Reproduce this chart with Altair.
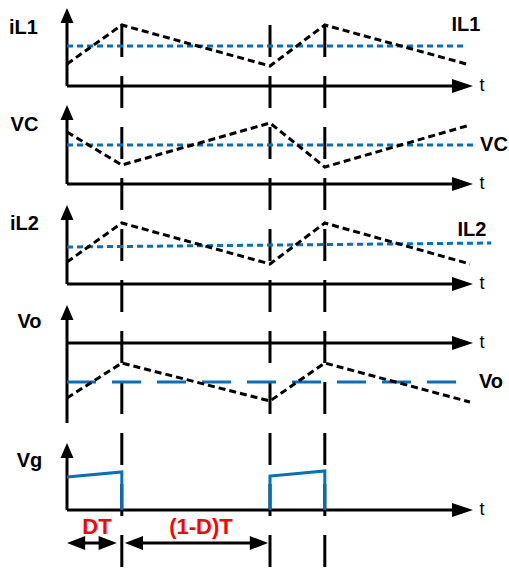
import altair as alt
import pandas as pd

# ---------------- data ----------------
D = 0.27                                   # duty ratio (DT / T)
T_KNOTS = [0, D, 1, 1 + D, 1.985]          # time, in switching periods
IL1 = [22, 61, 20, 61, 21]                 # inductor current iL1 (height above its t axis)
VC = [52, 19, 61, 17, 59]                  # capacitor voltage VC
IL2 = [22, 61, 20, 61, 20]                 # inductor current iL2
VO = [-55, -20, -58, -20, -59]             # output voltage Vo (below its t axis)
AVG_NAMES = ["IL1", "VC", "IL2", "Vo"]
AVG_START = [40, 39, 37, -39]              # average level at t = 0
AVG_END = [40, 39, 41, -39]                # average level at right end
AVG_T_END = [1.97, 2.01, 2.09, 1.995]
VG_T1 = [0, D, D]
VG_1 = [33, 38, 0]
VG_T2 = [1, 1, 1 + D, 1 + D]
VG_2 = [0, 34, 39, 0]
SWITCH_T = [D, 1, 1 + D]
PANELS = ["iL1", "VC", "iL2", "Vo", "Vg"]

# ---------------- layout ----------------
W, H = 509, 571
X0, TPX = 67, 203               # pixel x of t=0, pixels per period
AXIS_Y = [86, 184, 284, 343, 510]
TIP_Y = [8, 105, 205, 305, 443]
YAX_BOTTOM = [86, 184, 284, 423, 510]
T_TIP_X = 473
BLACK = "#000000"
BLUE = "#0070C0"
RED = "#FF0000"
FONT = "Liberation Sans"


def px(t):
    return X0 + t * TPX


# axes lines
rows = []
for i in range(5):
    rows.append(dict(x=X0, y=YAX_BOTTOM[i], x2=X0, y2=TIP_Y[i] + 10))
    rows.append(dict(x=X0, y=AXIS_Y[i], x2=T_TIP_X - 15, y2=AXIS_Y[i]))
axes_df = pd.DataFrame(rows)

up_df = pd.DataFrame(dict(x=[X0] * 5, y=TIP_Y))
right_df = pd.DataFrame(dict(x=[T_TIP_X] * 5, y=AXIS_Y))

# switching instants (dashed verticals)
sw_df = pd.DataFrame(dict(x=[px(t) for t in SWITCH_T], y=[25] * 3, x2=[px(t) for t in SWITCH_T], y2=[H] * 3))

# triangular waveforms
wrows = []
for k, vals in zip(range(4), [IL1, VC, IL2, VO]):
    for j, (t, v) in enumerate(zip(T_KNOTS, vals)):
        wrows.append(dict(p=PANELS[k], i=j, x=px(t), y=AXIS_Y[k] - v))
wave_df = pd.DataFrame(wrows)

# average levels
arows = []
for k in range(4):
    arows.append(dict(p=AVG_NAMES[k], i=0, x=px(0), y=AXIS_Y[k] - AVG_START[k]))
    arows.append(dict(p=AVG_NAMES[k], i=1, x=px(AVG_T_END[k]), y=AXIS_Y[k] - AVG_END[k]))
avg_df = pd.DataFrame(arows)
avg_dot = avg_df[avg_df.p != "Vo"]
avg_dash = avg_df[avg_df.p == "Vo"]

# gate voltage
grows = []
for j, (t, v) in enumerate(zip(VG_T1, VG_1)):
    grows.append(dict(p="a", i=j, x=px(t), y=AXIS_Y[4] - v))
for j, (t, v) in enumerate(zip(VG_T2, VG_2)):
    grows.append(dict(p="b", i=j, x=px(t), y=AXIS_Y[4] - v))
vg_df = pd.DataFrame(grows)

# interval arrows
ARROW_Y = 543
iv_df = pd.DataFrame(dict(x=[px(0) + 10, px(D) + 14], x2=[px(D) - 14, px(1) - 14], y=[ARROW_Y] * 2, y2=[ARROW_Y] * 2))
ileft_df = pd.DataFrame(dict(x=[px(0), px(D) + 3], y=[ARROW_Y] * 2))
iright_df = pd.DataFrame(dict(x=[px(D) - 5, px(1) - 2], y=[ARROW_Y] * 2))

# labels
left_lab = pd.DataFrame(dict(text=["iL1", "VC", "iL2", "Vo", "Vg"],
                             x=[23.5, 24.5, 24.5, 29.5, 29.5], y=[28, 125, 224, 322, 461]))
right_lab = pd.DataFrame(dict(text=["IL1", "VC", "IL2", "Vo"],
                              x=[466, 494, 472, 491], y=[25, 145, 230, 382]))
t_lab = pd.DataFrame(dict(text=["t"] * 5, x=[482] * 5, y=AXIS_Y))
red_lab = pd.DataFrame(dict(text=["DT", "(1-D)T"], x=[97, 201], y=[527, 527]))

X = alt.X("x:Q", scale=alt.Scale(domain=[0, W], nice=False, zero=False), axis=None)
Y = alt.Y("y:Q", scale=alt.Scale(domain=[0, H], nice=False, zero=False, reverse=True), axis=None)

axes = alt.Chart(axes_df).mark_rule(color=BLACK, strokeWidth=3).encode(x=X, y=Y, x2="x2:Q", y2="y2:Q")
ups = alt.Chart(up_df).mark_point(shape="M0,0L1,2.3L-1,2.3Z", filled=True, size=169, color=BLACK,
                                  opacity=1).encode(x=X, y=Y)
rights = alt.Chart(right_df).mark_point(shape="M0,0L-3,-1L-3,1Z", filled=True, size=196, color=BLACK,
                                        opacity=1).encode(x=X, y=Y)
sw = alt.Chart(sw_df).mark_rule(color=BLACK, strokeWidth=3, strokeDash=[32, 19]).encode(
    x=X, y=Y, x2="x2:Q", y2="y2:Q")
wave = alt.Chart(wave_df).mark_line(color=BLACK, strokeWidth=3, strokeDash=[7, 4]).encode(
    x=X, y=Y, detail="p:N", order="i:Q")
avg1 = alt.Chart(avg_dot).mark_line(color=BLUE, strokeWidth=3, strokeDash=[6, 4]).encode(
    x=X, y=Y, detail="p:N", order="i:Q")
avg2 = alt.Chart(avg_dash).mark_line(color=BLUE, strokeWidth=3, strokeDash=[29, 16]).encode(
    x=X, y=Y, detail="p:N", order="i:Q")
vg = alt.Chart(vg_df).mark_line(color=BLUE, strokeWidth=3).encode(x=X, y=Y, detail="p:N", order="i:Q")
iv = alt.Chart(iv_df).mark_rule(color=BLACK, strokeWidth=3).encode(x=X, y=Y, x2="x2:Q", y2="y2:Q")
ileft = alt.Chart(ileft_df).mark_point(shape="M0,0L2.6,-1L2.6,1Z", filled=True, size=196, color=BLACK,
                                       opacity=1).encode(x=X, y=Y)
iright = alt.Chart(iright_df).mark_point(shape="M0,0L-2.6,-1L-2.6,1Z", filled=True, size=196, color=BLACK,
                                         opacity=1).encode(x=X, y=Y)

lab1 = alt.Chart(left_lab).mark_text(font=FONT, fontSize=20, fontWeight="bold", color=BLACK,
                                     baseline="middle", align="center").encode(x=X, y=Y, text="text:N")
lab2 = alt.Chart(right_lab).mark_text(font=FONT, fontSize=20, fontWeight="bold", color=BLACK,
                                      baseline="middle", align="center").encode(x=X, y=Y, text="text:N")
lab3 = alt.Chart(t_lab).mark_text(font=FONT, fontSize=18, color=BLACK,
                                  baseline="middle", align="center").encode(x=X, y=Y, text="text:N")
lab4 = alt.Chart(red_lab).mark_text(font=FONT, fontSize=22, fontWeight="bold", color=RED,
                                    baseline="middle", align="center").encode(x=X, y=Y, text="text:N")

chart = alt.layer(sw, axes, ups, rights, avg1, avg2, wave, vg, iv, ileft, iright,
                  lab1, lab2, lab3, lab4).properties(
    width=W, height=H, padding=0, autosize=alt.AutoSizeParams(type="none"),
    background="white"
).configure_view(stroke=None)

chart.save("out.html", embed_options={"renderer": "svg", "actions": False})
